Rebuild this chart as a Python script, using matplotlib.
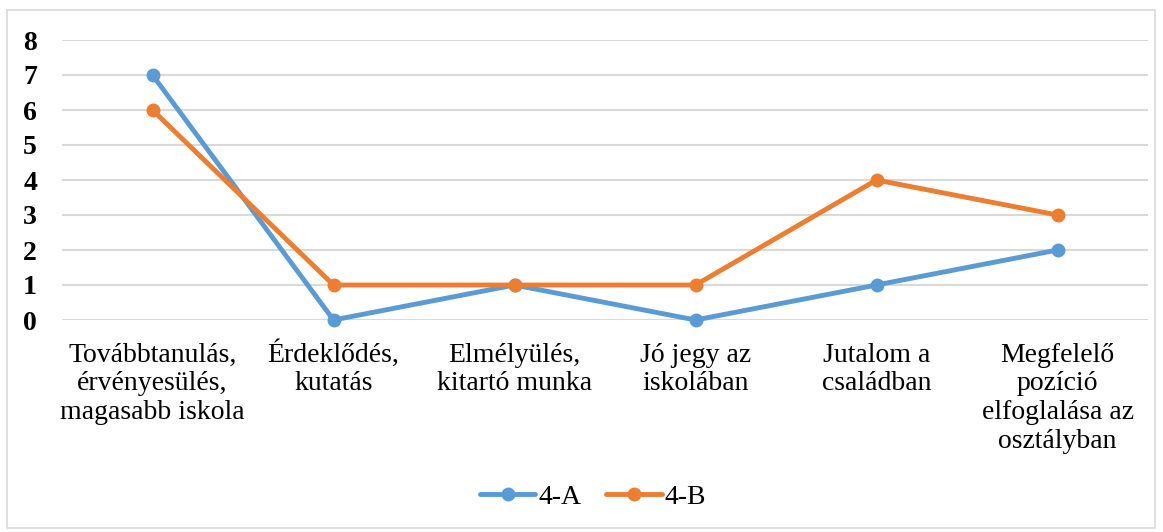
import matplotlib
matplotlib.use("Agg")
from matplotlib import pyplot as plt
from matplotlib.patches import Rectangle

categories = [
    "Továbbtanulás,\nérvényesülés,\nmagasabb iskola",
    "Érdeklődés,\nkutatás",
    "Elmélyülés,\nkitartó munka",
    "Jó jegy az\niskolában",
    "Jutalom a\ncsaládban",
    "Megfelelő\npozíció\nelfoglalása az\nosztályban",
]
series_a = [7, 0, 1, 0, 1, 2]
series_b = [6, 1, 1, 1, 4, 3]
y_ticks = [0, 1, 2, 3, 4, 5, 6, 7, 8]

plt.rcParams["font.family"] = ["Liberation Serif", "DejaVu Serif"]

fig = plt.figure(figsize=(11.63, 5.32), dpi=100)
ax = fig.add_axes([62 / 1163, 1 - 320 / 532, 1086 / 1163, 280 / 532])

# outer chart border
fig.patches.append(Rectangle((7 / 1163, 1 - 528 / 532), 1148 / 1163, 518 / 532,
                             transform=fig.transFigure, fill=False,
                             edgecolor="#D9D9D9", linewidth=1.2))

x = list(range(len(categories)))
ax.plot(x, series_a, color="#5B9BD5", linewidth=3.5, marker="o", markersize=9,
        label="4-A", clip_on=False, solid_capstyle="round", zorder=3)
ax.plot(x, series_b, color="#ED7D31", linewidth=3.5, marker="o", markersize=9,
        label="4-B", clip_on=False, solid_capstyle="round", zorder=3)

ax.set_xlim(-0.5, len(categories) - 0.5)
ax.set_ylim(0, 8)
ax.set_yticks(y_ticks)
ax.set_yticklabels([str(t) for t in y_ticks], fontsize=20, fontweight="bold")
ax.set_xticks(x)
ax.set_xticklabels([])
ax.tick_params(axis="both", length=0)
ax.tick_params(axis="y", pad=18)

# category labels, each line placed on its own baseline (Excel style)
trans = ax.get_xaxis_transform()
for i, label in enumerate(categories):
    for k, line in enumerate(label.split("\n")):
        base_px = 42 + 28.5 * k
        ax.text(i, -base_px / 280, line, transform=trans, ha="center",
                va="baseline", fontsize=20, clip_on=False)

ax.grid(axis="y", color="#D9D9D9", linewidth=1.5)
ax.set_axisbelow(True)
for s in ax.spines.values():
    s.set_visible(False)

leg = fig.legend(loc="center", bbox_to_anchor=(593 / 1163, 1 - 497 / 532),
                 ncol=2, frameon=False, fontsize=20, handlelength=2.0,
                 handletextpad=0.1, columnspacing=0.9)

fig.savefig("out.png", dpi=100)
